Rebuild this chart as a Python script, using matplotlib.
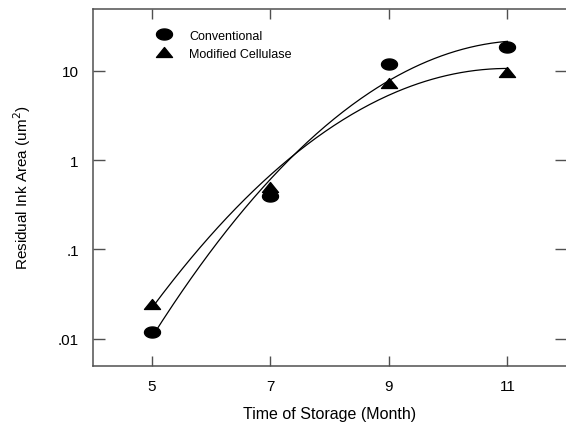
import numpy as np
import matplotlib.pyplot as plt
from matplotlib.path import Path
from matplotlib.ticker import NullLocator

plt.rcParams['font.family'] = ['Liberation Sans', 'DejaVu Sans']

# data
months = [5, 7, 9, 11]
conventional = [0.012, 0.40, 11.9, 18.6]
modified = [0.0245, 0.50, 7.3, 9.6]

x_ticks = [5, 7, 9, 11]
y_ticks = [0.01, 0.1, 1, 10]
y_tick_labels = ['.01', '.1', '1', '10']

# flattened marker shapes like the original plot
theta = np.linspace(0, 2 * np.pi, 60)
ellipse = Path(np.column_stack([np.cos(theta), 0.69 * np.sin(theta)]))
triangle = Path([(-1, -0.62), (1, -0.62), (0, 0.62), (-1, -0.62)],
                [Path.MOVETO, Path.LINETO, Path.LINETO, Path.CLOSEPOLY])


def fit_curve(x, y):
    # second order fit of log10(y), drawn over the data range
    coeffs = np.polyfit(x, np.log10(y), 2)
    xs = np.linspace(min(x), max(x), 200)
    return xs, 10 ** np.polyval(coeffs, xs)


fig = plt.figure(figsize=(5.66, 4.31), dpi=100)
ax = fig.add_axes([92.7 / 566, (431 - 366.5) / 431, 474 / 566, 357 / 431])

for series in (conventional, modified):
    xs, ys = fit_curve(months, series)
    ax.plot(xs, ys, color='black', lw=0.9, zorder=2)

ax.plot(months, conventional, linestyle='none', marker=ellipse, markersize=11.5,
        color='black', label='Conventional', zorder=3)
ax.plot(months, modified, linestyle='none', marker=triangle, markersize=11.5,
        color='black', label='Modified Cellulase', zorder=3)

ax.set_yscale('log')
ax.set_xlim(4, 12)
ax.set_ylim(0.005, 50)
ax.set_xticks(x_ticks)
ax.set_xticklabels([str(v) for v in x_ticks])
ax.set_yticks(y_ticks)
ax.set_yticklabels(y_tick_labels)
ax.yaxis.set_minor_locator(NullLocator())

for side in ax.spines.values():
    side.set_color('#505050')
    side.set_linewidth(1.1)

ax.tick_params(axis='x', direction='in', length=7, width=1, color='#505050',
               top=True, pad=10, labelsize=11)
ax.tick_params(axis='y', direction='in', length=8.6, width=1, color='#505050',
               right=True, pad=10, labelsize=11)

ax.set_xlabel('Time of Storage (Month)', fontsize=11.5, labelpad=9)
ax.set_ylabel('Residual Ink Area (um$^2$)', fontsize=11, labelpad=18)

ax.legend(loc='upper left', bbox_to_anchor=(0.123, 0.955), frameon=False,
          fontsize=9, handletextpad=1.45, labelspacing=0.5, borderaxespad=0,
          handlelength=1.2, markerscale=1.0)

fig.savefig('out.png', dpi=100)
